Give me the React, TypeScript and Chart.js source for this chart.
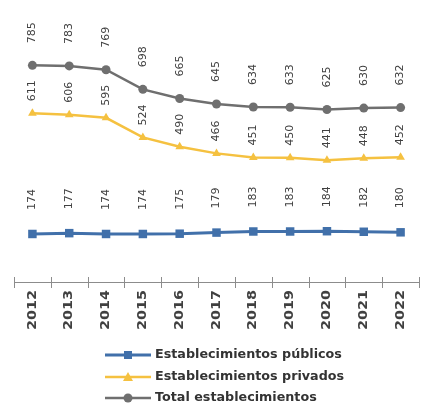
import React, { useEffect, useRef } from "react";
import { Chart, registerables } from "chart.js";

Chart.register(...registerables);

const years = ["2012", "2013", "2014", "2015", "2016", "2017", "2018", "2019", "2020", "2021", "2022"];
const publicos = [174, 177, 174, 174, 175, 179, 183, 183, 184, 182, 180];
const privados = [611, 606, 595, 524, 490, 466, 451, 450, 441, 448, 452];
const totales = [785, 783, 769, 698, 665, 645, 634, 633, 625, 630, 632];
const seriesNames = ["Establecimientos públicos", "Establecimientos privados", "Total establecimientos"];

const BLUE = "#4170AA";
const YELLOW = "#F5C140";
const GRAY = "#6F6F6F";
const labelGaps = [24, 12, 22];

const dataLabelPlugin = {
  id: "vlabels",
  afterDatasetsDraw(chart: any) {
    const ctx = chart.ctx;
    ctx.save();
    ctx.font = "11px 'DejaVu Sans'";
    ctx.fillStyle = "#404040";
    ctx.textAlign = "left";
    ctx.textBaseline = "middle";
    chart.data.datasets.forEach((ds: any, di: number) => {
      const meta = chart.getDatasetMeta(di);
      meta.data.forEach((pt: any, i: number) => {
        ctx.save();
        ctx.translate(pt.x, pt.y - labelGaps[di]);
        ctx.rotate(-Math.PI / 2);
        ctx.fillText(String(ds.data[i]), 0, 0);
        ctx.restore();
      });
    });
    ctx.restore();
  },
};

const axisPlugin = {
  id: "axisTicks",
  afterDraw(chart: any) {
    const ctx = chart.ctx;
    const xs = chart.scales.x;
    const area = chart.chartArea;
    const y = area.bottom;
    ctx.save();
    ctx.strokeStyle = "#8c8c8c";
    ctx.lineWidth = 1;
    ctx.beginPath();
    ctx.moveTo(area.left, y + 0.5);
    ctx.lineTo(area.right, y + 0.5);
    const n = years.length;
    for (let i = 0; i <= n; i++) {
      const x = Math.round(area.left + (i * (area.right - area.left)) / n) + 0.5;
      ctx.moveTo(x, y - 5);
      ctx.lineTo(x, y + 6);
    }
    ctx.stroke();
    // category labels, rotated, read bottom to top
    ctx.fillStyle = "#404040";
    ctx.font = "bold 12px 'DejaVu Sans'";
    ctx.textAlign = "right";
    ctx.textBaseline = "middle";
    chart.data.labels.forEach((lab: string, i: number) => {
      const x = xs.getPixelForValue(i);
      ctx.save();
      ctx.translate(x, y + 8);
      ctx.rotate(-Math.PI / 2);
      ctx.scale(1.2, 1);
      ctx.fillText(lab, 0, 0);
      ctx.restore();
    });
    ctx.restore();
  },
};

function drawMarker(ctx: any, style: string, x: number, y: number, color: string) {
  ctx.fillStyle = color;
  ctx.beginPath();
  if (style === "rect") {
    ctx.rect(x - 4, y - 4, 8, 8);
  } else if (style === "triangle") {
    ctx.moveTo(x, y - 5);
    ctx.lineTo(x + 5, y + 4);
    ctx.lineTo(x - 5, y + 4);
    ctx.closePath();
  } else {
    ctx.arc(x, y, 4.5, 0, Math.PI * 2);
  }
  ctx.fill();
}

const legendPlugin = {
  id: "customLegend",
  afterDraw(chart: any) {
    const ctx = chart.ctx;
    const rows = [355, 377, 398];
    const x0 = 105;
    const x1 = 151;
    ctx.save();
    chart.data.datasets.forEach((ds: any, i: number) => {
      const y = rows[i];
      ctx.strokeStyle = ds.borderColor;
      ctx.lineWidth = ds.borderWidth;
      ctx.beginPath();
      ctx.moveTo(x0, y);
      ctx.lineTo(x1, y);
      ctx.stroke();
      drawMarker(ctx, ds.pointStyle, (x0 + x1) / 2, y, ds.borderColor);
      ctx.fillStyle = "#333333";
      ctx.font = "bold 12px 'DejaVu Sans'";
      ctx.textAlign = "left";
      ctx.textBaseline = "middle";
      ctx.save();
      ctx.translate(x1 + 4, y);
      ctx.scale(1.06, 1);
      ctx.fillText(ds.label, 0, 0);
      ctx.restore();
    });
    ctx.restore();
  },
};

export default function App() {
  const ref = useRef<HTMLCanvasElement>(null);
  useEffect(() => {
    if (!ref.current) return;
    const chart = new Chart(ref.current, {
      type: "line",
      data: {
        labels: years,
        datasets: [
          {
            label: seriesNames[0],
            data: publicos,
            borderColor: BLUE,
            backgroundColor: BLUE,
            borderWidth: 3,
            pointStyle: "rect",
            pointRadius: 6,
            pointBorderWidth: 0,
          },
          {
            label: seriesNames[1],
            data: privados,
            borderColor: YELLOW,
            backgroundColor: YELLOW,
            borderWidth: 2.5,
            pointStyle: "triangle",
            pointRadius: 5,
            pointBorderWidth: 0,
          },
          {
            label: seriesNames[2],
            data: totales,
            borderColor: GRAY,
            backgroundColor: GRAY,
            borderWidth: 2.5,
            pointStyle: "circle",
            pointRadius: 4.5,
            pointBorderWidth: 0,
          },
        ] as any,
      },
      options: {
        animation: false,
        responsive: true,
        maintainAspectRatio: false,
        layout: { padding: { left: 14, right: 0, top: 2, bottom: 80 } },
        plugins: { legend: { display: false }, tooltip: { enabled: false } },
        scales: {
          x: {
            offset: true,
            grid: { display: false },
            border: { display: false },
            ticks: { display: false },
            afterFit: (s: any) => {
              s.height = 46;
            },
          },
          y: { display: false, min: 0, max: 1000 },
        },
      },
      plugins: [dataLabelPlugin, axisPlugin, legendPlugin],
    });
    return () => chart.destroy();
  }, []);
  return (
    <div style={{ position: "absolute", left: 0, top: 0, width: 425, height: 408, background: "#fff" }}>
      <canvas ref={ref} />
    </div>
  );
}
